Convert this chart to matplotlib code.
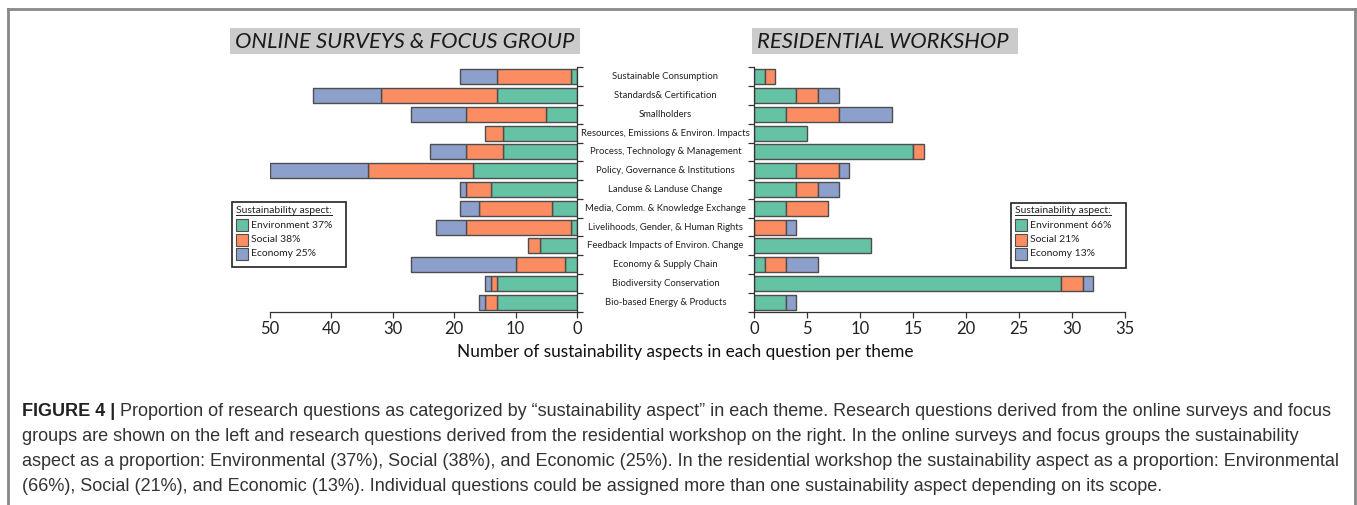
import matplotlib
matplotlib.use('Agg')
import matplotlib.pyplot as plt
import matplotlib.transforms as mtransforms
from matplotlib.patches import Rectangle
from matplotlib.lines import Line2D
import numpy as np

W, H = 1357, 505

themes = ['Sustainable Consumption', 'Standards& Certification', 'Smallholders',
          'Resources, Emissions & Environ. Impacts', 'Process, Technology & Management',
          'Policy, Governance & Institutions', 'Landuse & Landuse Change',
          'Media, Comm. & Knowledge Exchange', 'Livelihoods, Gender, & Human Rights',
          'Feedback Impacts of Environ. Change', 'Economy & Supply Chain',
          'Biodiversity Conservation', 'Bio-based Energy & Products']

# online surveys & focus group
online_env = [1, 13, 5, 12, 12, 17, 14, 4, 1, 6, 2, 13, 13]
online_soc = [12, 19, 13, 3, 6, 17, 4, 12, 17, 2, 8, 1, 2]
online_eco = [6, 11, 9, 0, 6, 16, 1, 3, 5, 0, 17, 1, 1]

# residential workshop
work_env = [1, 4, 3, 5, 15, 4, 4, 3, 0, 11, 1, 29, 3]
work_soc = [1, 2, 5, 0, 1, 4, 2, 4, 3, 0, 2, 2, 0]
work_eco = [0, 2, 5, 0, 0, 1, 2, 0, 1, 0, 3, 1, 1]

left_legend = ['Environment 37%', 'Social 38%', 'Economy 25%']
right_legend = ['Environment 66%', 'Social 21%', 'Economy 13%']

colors = ['#66c2a5', '#fc8d62', '#8da0cb']
edge = '#4d4d4d'
chart_font = 'Lato'
cap_font = 'Liberation Sans'


def fx(x):
    return x / W


def fy(y):
    return 1 - y / H


def box(x0, y0, x1, y1):
    # pixel box -> add_axes rect
    return [fx(x0), fy(y1), fx(x1) - fx(x0), fy(y0) - fy(y1)]


fig = plt.figure(figsize=(W / 100, H / 100), dpi=100)

ax1 = fig.add_axes(box(270, 67.5, 577, 311.5))
ax2 = fig.add_axes(box(754, 67.5, 1125, 311.5))

y = np.arange(len(themes))


def stack(ax, env, soc, eco):
    env = np.array(env)
    soc = np.array(soc)
    eco = np.array(eco)
    for vals, left, c in [(env, np.zeros_like(env), colors[0]), (soc, env, colors[1]),
                          (eco, env + soc, colors[2])]:
        mask = vals > 0
        ax.barh(y[mask], vals[mask], left=left[mask],
                height=0.8, color=c, edgecolor=edge, linewidth=1.0)
    ax.set_ylim(len(themes) - 0.5, -0.5)
    ax.set_yticks(np.arange(-0.5, len(themes)))
    ax.set_yticklabels([])
    ax.tick_params(axis='both', direction='out', length=4, color='#333333', width=0.9)
    ax.tick_params(axis='x', pad=3)
    for s in ax.spines.values():
        s.set_color('#333333')
        s.set_linewidth(0.9)


stack(ax1, online_env, online_soc, online_eco)
ax1.set_xlim(50, 0)
ax1.set_xticks([50, 40, 30, 20, 10, 0])
ax1.spines['top'].set_visible(False)
ax1.spines['left'].set_visible(False)
ax1.yaxis.tick_right()

stack(ax2, work_env, work_soc, work_eco)
ax2.set_xlim(0, 35)
ax2.set_xticks(range(0, 36, 5))
ax2.spines['top'].set_visible(False)
ax2.spines['right'].set_visible(False)

for a in (ax1, ax2):
    for lab in a.get_xticklabels():
        lab.set_fontfamily(chart_font)
        lab.set_fontsize(12)
        lab.set_color('#222222')

# theme labels in the middle
trans = mtransforms.blended_transform_factory(fig.transFigure, ax1.transData)
for i, t in enumerate(themes):
    fig.text(fx(665.5), i, t, transform=trans, ha='center', va='center',
             fontsize=6.8, family=chart_font, color='#222222')

# panel titles
for (x0, x1, txt) in [(230, 580, 'ONLINE SURVEYS & FOCUS GROUP'),
                      (752, 1018, 'RESIDENTIAL WORKSHOP')]:
    fig.patches.append(Rectangle((fx(x0), fy(54)), fx(x1) - fx(x0), fy(28) - fy(54),
                                 transform=fig.transFigure, facecolor='#cbcbcb',
                                 edgecolor='none'))
    fig.text(fx(x0 + 5), fy(41.5), txt, ha='left', va='center', fontsize=15.8,
             style='italic', family=chart_font, color='#1a1a1a')


# legends
def legend(x0, x1, y0, y1, labels):
    fig.patches.append(Rectangle((fx(x0), fy(y1)), fx(x1) - fx(x0), fy(y0) - fy(y1),
                                 transform=fig.transFigure, facecolor='white',
                                 edgecolor='#222222', linewidth=1.2))
    t = fig.text(fx(x0 + 4), fy(213), 'Sustainability aspect:', ha='left',
                 va='baseline', fontsize=7.5, family=chart_font, color='#222222')
    fig.canvas.draw()
    bb = t.get_window_extent()
    fig.lines.append(Line2D([bb.x0 / W, bb.x1 / W], [fy(215), fy(215)],
                            transform=fig.transFigure, color='#222222', lw=0.7))
    for k, lab in enumerate(labels):
        yc = 225 + k * 14.5
        fig.patches.append(Rectangle((fx(x0 + 4), fy(yc + 6)), fx(12), fy(0) - fy(12),
                                     transform=fig.transFigure, facecolor=colors[k],
                                     edgecolor=edge, linewidth=0.8))
        fig.text(fx(x0 + 19), fy(yc), lab, ha='left', va='center', fontsize=7.5,
                 family=chart_font, color='#222222')


legend(232, 346, 202, 267, left_legend)
legend(1011, 1126, 203, 268, right_legend)

fig.text(fx(685), fy(352), 'Number of sustainability aspects in each question per theme',
         ha='center', va='center', fontsize=12.4, family=chart_font, color='#111111')

# frame
for xs, ys in [([8, 8], [9, 505]), ([8, 1355], [9, 9]), ([1355, 1355], [9, 505])]:
    fig.lines.append(Line2D([fx(v) for v in xs], [fy(v) for v in ys],
                            transform=fig.transFigure, color='#888888', lw=2))

# caption
caption = [
    'Proportion of research questions as categorized by \u201csustainability aspect\u201d in each theme. Research questions derived from the online surveys and focus',
    'groups are shown on the left and research questions derived from the residential workshop on the right. In the online surveys and focus groups the sustainability',
    'aspect as a proportion: Environmental (37%), Social (38%), and Economic (25%). In the residential workshop the sustainability aspect as a proportion: Environmental',
    '(66%), Social (21%), and Economic (13%). Individual questions could be assigned more than one sustainability aspect depending on its scope.',
]
cap_size = 12.95
bold = fig.text(fx(22), fy(416), 'FIGURE 4 |', ha='left', va='baseline',
                fontsize=cap_size, weight='bold', family=cap_font, color='#222222')
fig.canvas.draw()
bx = bold.get_window_extent().x1
fig.text(bx / W, fy(416), ' ' + caption[0], ha='left', va='baseline', fontsize=cap_size,
         family=cap_font, color='#333333')
for k, line in enumerate(caption[1:]):
    fig.text(fx(22), fy(416 + 25 * (k + 1)), line, ha='left', va='baseline',
             fontsize=cap_size, family=cap_font, color='#333333')

fig.savefig('out.png', dpi=100)
